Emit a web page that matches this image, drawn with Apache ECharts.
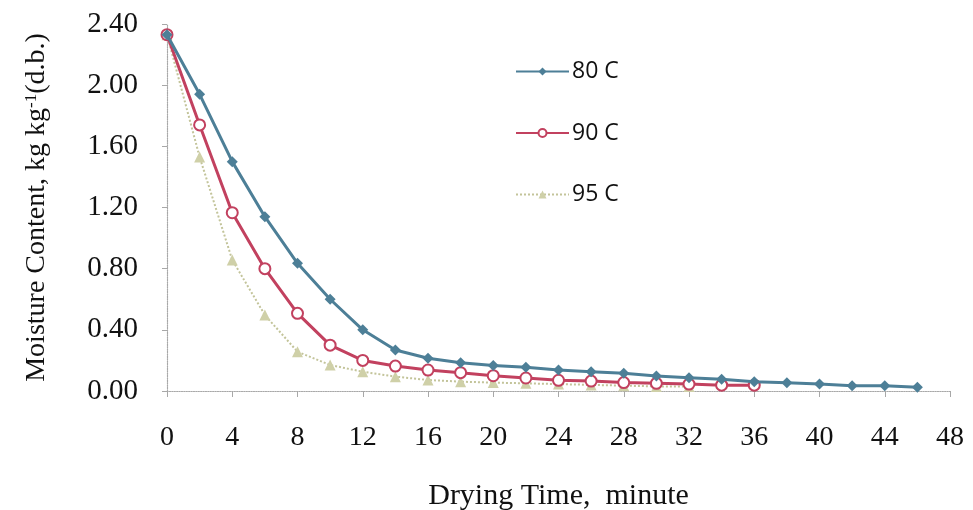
<!DOCTYPE html>
<html>
<head>
<meta charset="utf-8">
<script src="https://cdn.jsdelivr.net/npm/echarts@6/dist/echarts.min.js"></script>
<style>html,body{margin:0;padding:0;background:#fff}#c{width:973px;height:510px}</style>
</head>
<body>
<div id="c"></div>
<script>
// Drying time (minutes)
const timeMin = [0,2,4,6,8,10,12,14,16,18,20,22,24,26,28,30,32,34,36,38,40,42,44,46];
// Moisture content kg/kg (d.b.)
const mc80 = [2.33,1.94,1.50,1.14,0.835,0.60,0.40,0.268,0.214,0.185,0.167,0.155,0.137,0.126,0.116,0.098,0.087,0.077,0.061,0.054,0.046,0.035,0.035,0.024];
const mc90 = [2.33,1.74,1.166,0.80,0.508,0.30,0.20,0.163,0.137,0.12,0.10,0.085,0.07,0.065,0.055,0.05,0.045,0.038,0.038];
const mc95 = [2.33,1.53,0.857,0.497,0.257,0.17,0.126,0.094,0.072,0.061,0.055,0.05,0.045,0.04,0.035,0.03,0.03];
const seriesNames = ['80 C','90 C','95 C'];
const xTicks = {min:0,max:48,step:4};
const yTicks = {min:0,max:2.4,step:0.4};

function pairs(vals){ return vals.map((v,i)=>[timeMin[i],v]); }

const chart = echarts.init(document.getElementById('c'));
const serif = 'Liberation Serif';
const axisLine = {show:true, lineStyle:{color:'#a8a8a8', width:1.2, type:'dotted'}};
chart.setOption({
  animation:false,
  backgroundColor:'#fff',
  grid:{left:167,right:23,top:24,bottom:119, outerBoundsMode:'none', containLabel:false},
  legend:{
    orient:'vertical', left:515, top:60, padding:0,
    itemWidth:53, itemHeight:10, itemGap:38.5,
    textStyle:{fontFamily:'Open Sans', fontSize:23, color:'#111', padding:[0,0,0,-2]},
    data:seriesNames
  },
  xAxis:{
    type:'value', min:xTicks.min, max:xTicks.max, interval:xTicks.step,
    axisLine:axisLine,
    axisTick:{show:true, length:6, lineStyle:{color:'#a8a8a8'}},
    splitLine:{show:false},
    axisLabel:{fontFamily:serif, fontSize:28, color:'#111', margin:33},
    name:'Drying Time,  minute', nameLocation:'middle', nameGap:90,
    nameTextStyle:{fontFamily:serif, fontSize:30, color:'#111'}
  },
  yAxis:{
    type:'value', min:yTicks.min, max:yTicks.max, interval:yTicks.step,
    axisLine:axisLine,
    axisTick:{show:true, length:5, lineStyle:{color:'#a8a8a8'}},
    splitLine:{show:false},
    axisLabel:{fontFamily:serif, fontSize:29, color:'#111', margin:29, formatter:v=>v.toFixed(2)},
    name:'Moisture Content, kg kg{sup|-1}(d.b.)', nameLocation:'middle', nameGap:116,
    nameTextStyle:{fontFamily:serif, fontSize:28, color:'#111',
      rich:{sup:{fontFamily:serif, fontSize:17, color:'#111', verticalAlign:'top', padding:[0,0,10,0]}}}
  },
  series:[
    {name:seriesNames[0], type:'line', data:pairs(mc80), symbol:'diamond', symbolSize:11,
     lineStyle:{color:'#4d7f97', width:3}, itemStyle:{color:'#4d7f97'}, z:3},
    {name:seriesNames[1], type:'line', data:pairs(mc90), symbol:'emptyCircle', symbolSize:11,
     lineStyle:{color:'#c2415f', width:3}, itemStyle:{color:'#c2415f', borderWidth:1.5}, z:2},
    {name:seriesNames[2], type:'line', data:pairs(mc95), symbol:'triangle', symbolSize:11,
     lineStyle:{color:'#c3c49a', width:2, type:'dotted'}, itemStyle:{color:'#cfd0a8'}, z:1}
  ]
});
</script>
</body>
</html>
